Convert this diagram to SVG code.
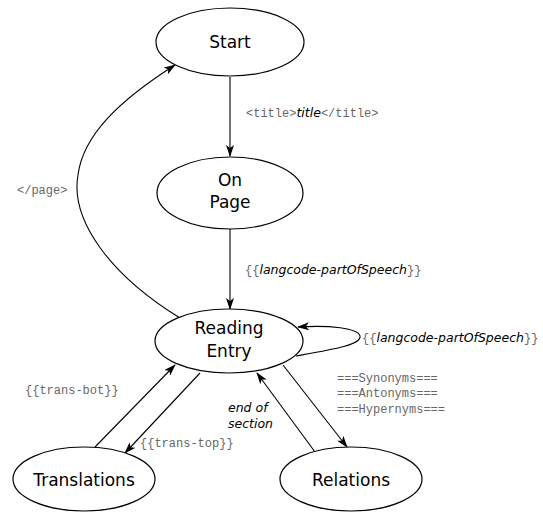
<svg xmlns="http://www.w3.org/2000/svg" width="543" height="512" viewBox="0 0 543 512">
  <defs>
    <marker id="arrow" viewBox="0 0 12 8" refX="11" refY="4" markerWidth="12" markerHeight="8" markerUnits="userSpaceOnUse" orient="auto">
      <path d="M0,0 L12,4 L0,8 L3,4 z" fill="#000"/>
    </marker>
    <style>
      .node ellipse { fill: #fff; stroke: #000; stroke-width: 1.2; }
      .node text { font-family: "DejaVu Sans", sans-serif; font-size: 17px; fill: #000; text-anchor: middle; }
      .edge { fill: none; stroke: #000; stroke-width: 1.1; marker-end: url(#arrow); }
      .lbl { font-family: "Liberation Mono", "Courier New", monospace; font-size: 12px; fill: #666; }
      .it { font-family: "DejaVu Sans", sans-serif; font-style: italic; font-size: 12.5px; fill: #000; }
    </style>
  </defs>

  <g id="connectors">
    <path class="edge" d="M230,77 L230,156"/>
    <path class="edge" d="M230,229 L230,309"/>
    <path class="edge" d="M180,318 C110,275 70,220 78,175 C83,135 120,100 175,65"/>
    <path class="edge" d="M296,356 C330,350 362,345 360,336 C358,328 330,325 298,327"/>
    <path class="edge" d="M95,447 L175,365"/>
    <path class="edge" d="M200,373 L125,453"/>
    <path class="edge" d="M315,452 L257,373"/>
    <path class="edge" d="M283,365 L347,447"/>
  </g>

  <g id="labels">
    <text x="246" y="117"><tspan class="lbl">&lt;title&gt;</tspan><tspan class="it">title</tspan><tspan class="lbl">&lt;/title&gt;</tspan></text>
    <text class="lbl" x="17" y="194">&lt;/page&gt;</text>
    <text x="245" y="274"><tspan class="lbl">{{</tspan><tspan class="it">langcode-partOfSpeech</tspan><tspan class="lbl">}}</tspan></text>
    <text x="362" y="342"><tspan class="lbl">{{</tspan><tspan class="it">langcode-partOfSpeech</tspan><tspan class="lbl">}}</tspan></text>
    <text class="lbl" x="337" y="382">===Synonyms===</text>
    <text class="lbl" x="337" y="397">===Antonyms===</text>
    <text class="lbl" x="337" y="413">===Hypernyms===</text>
    <text class="lbl" x="25" y="394">{{trans-bot}}</text>
    <text class="lbl" x="140" y="447">{{trans-top}}</text>
    <text class="it" x="228" y="412">end of</text>
    <text class="it" x="228" y="428">section</text>
  </g>

  <g id="start" class="node">
    <ellipse cx="230" cy="42" rx="74" ry="34"/>
    <text x="230" y="48">Start</text>
  </g>
  <g id="on-page" class="node">
    <ellipse cx="230" cy="193" rx="73" ry="36"/>
    <text x="230" y="186">On</text>
    <text x="230" y="208">Page</text>
  </g>
  <g id="reading-entry" class="node">
    <ellipse cx="229" cy="341" rx="74" ry="32"/>
    <text x="229" y="334">Reading</text>
    <text x="229" y="357">Entry</text>
  </g>
  <g id="translations" class="node">
    <ellipse cx="84" cy="479" rx="71" ry="32"/>
    <text x="84" y="486">Translations</text>
  </g>
  <g id="relations" class="node">
    <ellipse cx="351" cy="479" rx="71" ry="32"/>
    <text x="351" y="486">Relations</text>
  </g>
</svg>
